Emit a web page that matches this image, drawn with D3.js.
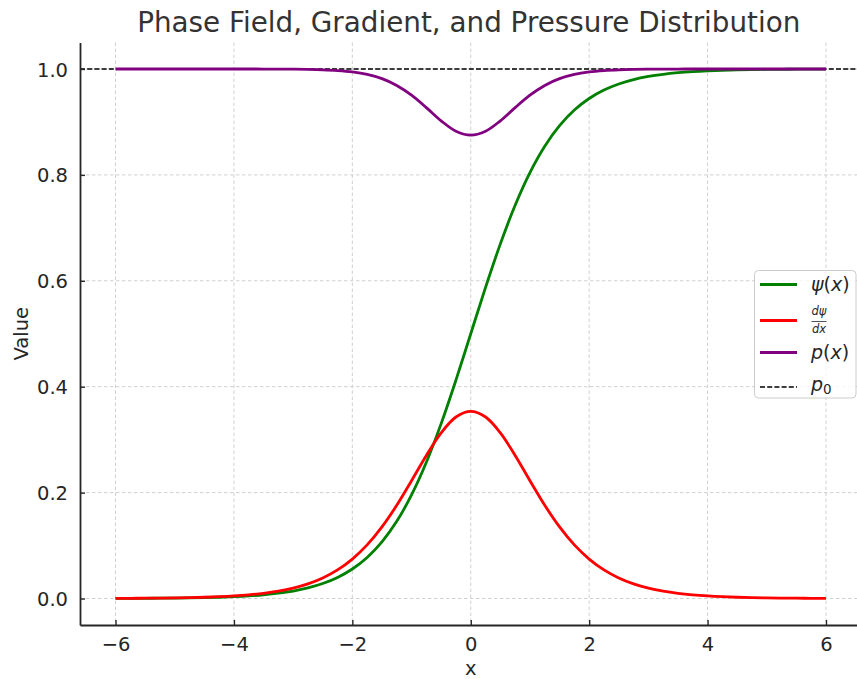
<!DOCTYPE html>
<html>
<head>
<meta charset="utf-8">
<script src="https://cdn.jsdelivr.net/npm/d3@7"></script>
<style>
  html, body { margin: 0; padding: 0; background: #fff; }
  svg { display: block; font-family: "DejaVu Sans", sans-serif; }
</style>
</head>
<body>
<svg id="chart" width="857" height="679"></svg>
<script>
// Sample positions along x
const xs = [-6, -5.75, -5.5, -5.25, -5, -4.75, -4.5, -4.25, -4, -3.75, -3.5, -3.25,
            -3, -2.75, -2.5, -2.25, -2, -1.75, -1.5, -1.25, -1, -0.75, -0.5, -0.25,
            0, 0.25, 0.5, 0.75, 1, 1.25, 1.5, 1.75, 2, 2.25, 2.5, 2.75,
            3, 3.25, 3.5, 3.75, 4, 4.25, 4.5, 4.75, 5, 5.25, 5.5, 5.75, 6];

// Phase field psi(x)
const psiValues = [0.00021, 0.00029, 0.00042, 0.00059, 0.00085, 0.00121, 0.00172, 0.00244,
                   0.00348, 0.00495, 0.00703, 0.00999, 0.01416, 0.02005, 0.02831, 0.03985,
                   0.05580, 0.07763, 0.10704, 0.14582, 0.19557, 0.25718, 0.33024, 0.41252,
                   0.50000,
                   0.58748, 0.66976, 0.74282, 0.80443, 0.85418, 0.89296, 0.92237, 0.94420,
                   0.96015, 0.97169, 0.97995, 0.98584, 0.99001, 0.99297, 0.99505, 0.99652,
                   0.99756, 0.99828, 0.99879, 0.99915, 0.99941, 0.99958, 0.99971, 0.99979];

// Gradient dpsi/dx
const gradValues = [0.00029, 0.00042, 0.00059, 0.00084, 0.00120, 0.00171, 0.00243, 0.00345,
                    0.00490, 0.00697, 0.00988, 0.01399, 0.01975, 0.02779, 0.03891, 0.05411,
                    0.07452, 0.10127, 0.13517, 0.17615, 0.22249, 0.27017, 0.31280, 0.34273,
                    0.35355,
                    0.34273, 0.31280, 0.27017, 0.22249, 0.17615, 0.13517, 0.10127, 0.07452,
                    0.05411, 0.03891, 0.02779, 0.01975, 0.01399, 0.00988, 0.00697, 0.00490,
                    0.00345, 0.00243, 0.00171, 0.00120, 0.00084, 0.00059, 0.00042, 0.00029];

// Pressure p(x)
const pressureValues = [1.00000, 1.00000, 1.00000, 1.00000, 1.00000, 1.00000, 1.00000, 0.99999,
                        0.99998, 0.99995, 0.99990, 0.99980, 0.99961, 0.99923, 0.99849, 0.99707,
                        0.99445, 0.98974, 0.98173, 0.96897, 0.95050, 0.92701, 0.90216, 0.88254,
                        0.87500,
                        0.88254, 0.90216, 0.92701, 0.95050, 0.96897, 0.98173, 0.98974, 0.99445,
                        0.99707, 0.99849, 0.99923, 0.99961, 0.99980, 0.99990, 0.99995, 0.99998,
                        0.99999, 1.00000, 1.00000, 1.00000, 1.00000, 1.00000, 1.00000, 1.00000];

// Reference pressure
const p0 = 1.0;

const xTicks = [-6, -4, -2, 0, 2, 4, 6];
const yTicks = [0.0, 0.2, 0.4, 0.6, 0.8, 1.0];

const svg = d3.select("#chart");
const plot = { left: 80, right: 861.5, top: 42.5, bottom: 625 };

const x = d3.scaleLinear().domain([-6.6, 6.6]).range([plot.left, plot.right]);
const y = d3.scaleLinear().domain([-0.05, 1.05]).range([plot.bottom, plot.top]);

const textColor = "#262626";
const fontSize = 19.5;

// grid
const grid = svg.append("g");
grid.selectAll("line.gx").data(xTicks).join("line")
  .attr("x1", d => x(d)).attr("x2", d => x(d))
  .attr("y1", plot.top).attr("y2", plot.bottom)
  .attr("stroke", "#d0d0d0").attr("stroke-width", 1)
  .attr("stroke-dasharray", "3.5,2.5");
grid.selectAll("line.gy").data(yTicks).join("line")
  .attr("x1", plot.left).attr("x2", plot.right)
  .attr("y1", d => y(d)).attr("y2", d => y(d))
  .attr("stroke", "#d0d0d0").attr("stroke-width", 1)
  .attr("stroke-dasharray", "3.5,2.5");

// p0 reference line
svg.append("line")
  .attr("x1", plot.left).attr("x2", plot.right)
  .attr("y1", y(p0)).attr("y2", y(p0))
  .attr("stroke", "#000").attr("stroke-width", 1.4)
  .attr("stroke-dasharray", "5,2.2");

// curves
const line = vals => d3.line()
  .x((d, i) => x(xs[i]))
  .y(d => y(d))
  .curve(d3.curveCatmullRom.alpha(0.5))(vals);

const series = [
  { vals: psiValues, color: "#008000" },
  { vals: gradValues, color: "#ff0000" },
  { vals: pressureValues, color: "#800080" }
];
svg.append("g").selectAll("path").data(series).join("path")
  .attr("d", d => line(d.vals))
  .attr("fill", "none")
  .attr("stroke", d => d.color)
  .attr("stroke-width", 2.8)
  .attr("stroke-linejoin", "round")
  .attr("stroke-linecap", "butt");

// axes
const minus = d => (d < 0 ? "\u2212" + Math.abs(d) : String(d));
const xAxis = d3.axisBottom(x).tickValues(xTicks).tickFormat(minus)
  .tickSizeInner(-5).tickSizeOuter(0).tickPadding(12);
const yAxis = d3.axisLeft(y).tickValues(yTicks).tickFormat(d3.format(".1f"))
  .tickSizeInner(-5).tickSizeOuter(0).tickPadding(12);

const gx = svg.append("g").attr("transform", `translate(0,${plot.bottom})`).call(xAxis);
const gy = svg.append("g").attr("transform", `translate(${plot.left},0)`).call(yAxis);

[gx, gy].forEach(g => {
  g.select(".domain").attr("stroke", "#262626").attr("stroke-width", 1.8);
  g.selectAll(".tick line").attr("stroke", "#262626").attr("stroke-width", 1.4);
  g.selectAll(".tick text")
    .attr("fill", textColor)
    .style("font-size", fontSize + "px")
    .style("font-family", "DejaVu Sans, sans-serif");
});
gy.selectAll(".tick text").attr("dy", "0.36em");

// title and axis labels
svg.append("text")
  .attr("x", (plot.left + plot.right) / 2 - 2).attr("y", 32)
  .attr("text-anchor", "middle")
  .attr("fill", "#333")
  .style("font-size", "27.8px")
  .text("Phase Field, Gradient, and Pressure Distribution");

svg.append("text")
  .attr("x", (plot.left + plot.right) / 2).attr("y", 675)
  .attr("text-anchor", "middle")
  .attr("fill", textColor)
  .style("font-size", fontSize + "px")
  .text("x");

svg.append("text")
  .attr("transform", `translate(28,${(plot.top + plot.bottom) / 2}) rotate(-90)`)
  .attr("text-anchor", "middle")
  .attr("fill", textColor)
  .style("font-size", fontSize + "px")
  .text("Value");

// legend
const legend = svg.append("g");
legend.append("rect")
  .attr("x", 754.5).attr("y", 270.5).attr("width", 101.5).attr("height", 127.5)
  .attr("rx", 4).attr("ry", 4)
  .attr("fill", "rgba(255,255,255,0.8)")
  .attr("stroke", "#cccccc").attr("stroke-width", 1);

const legendItems = [
  { color: "#008000", dash: null, cy: 284.5, width: 2.8 },
  { color: "#ff0000", dash: null, cy: 320.5, width: 2.8 },
  { color: "#800080", dash: null, cy: 352.5, width: 2.8 },
  { color: "#000000", dash: "5,2.2", cy: 387, width: 1.4 }
];
legend.selectAll("line").data(legendItems).join("line")
  .attr("x1", 760).attr("x2", 797)
  .attr("y1", d => d.cy).attr("y2", d => d.cy)
  .attr("stroke", d => d.color)
  .attr("stroke-width", d => d.width)
  .attr("stroke-dasharray", d => d.dash);

function mathText(xp, yp, parts) {
  const t = legend.append("text").attr("x", xp).attr("y", yp).attr("fill", textColor)
    .style("font-size", "19px");
  parts.forEach(p => {
    const s = t.append("tspan").text(p.t);
    if (p.i) s.style("font-style", "italic");
    if (p.size) s.style("font-size", p.size);
    if (p.dy) s.attr("dy", p.dy);
  });
  return t;
}
mathText(811, 291, [{ t: "\u03c8", i: true }, { t: "(" }, { t: "x", i: true }, { t: ")" }]);
// fraction d psi / dx
legend.append("text").attr("x", 819).attr("y", 315).attr("text-anchor", "middle")
  .attr("fill", textColor).style("font-size", "11.5px").style("font-style", "italic")
  .text("d\u03c8");
legend.append("line").attr("x1", 811.5).attr("x2", 826.5).attr("y1", 321.5).attr("y2", 321.5)
  .attr("stroke", textColor).attr("stroke-width", 0.8);
legend.append("text").attr("x", 819).attr("y", 333).attr("text-anchor", "middle")
  .attr("fill", textColor).style("font-size", "11.5px").style("font-style", "italic")
  .text("dx");
mathText(811, 359, [{ t: "p", i: true }, { t: "(" }, { t: "x", i: true }, { t: ")" }]);
mathText(811, 391, [{ t: "p", i: true }, { t: "0", size: "13.5px", dy: "3" }]);
</script>
</body>
</html>
